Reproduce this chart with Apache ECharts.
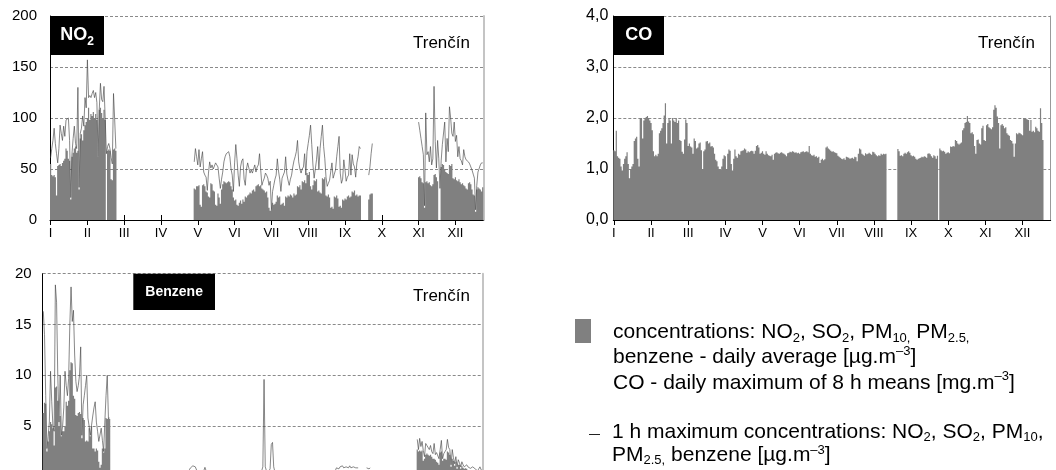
<!DOCTYPE html>
<html>
<head>
<meta charset="utf-8">
<script src="https://cdn.jsdelivr.net/npm/echarts@6/dist/echarts.min.js"></script>
<style>
  html, body { margin: 0; padding: 0; overflow: hidden; background: #fff; width: 1056px; height: 470px; }
  #chart { width: 1056px; height: 520px; }
</style>
</head>
<body>
<div id="chart"></div>
<script>
// Trenčín station, daily values for one year (one row per month, null = no measurement)
const MONTHS = ['I', 'II', 'III', 'IV', 'V', 'VI', 'VII', 'VIII', 'IX', 'X', 'XI', 'XII'];
const N = null;

// NO2 daily average [µg.m-3]
const NO2_DAILY_AVG = [
  [55, 44, 43, 44, 42, 24, 53, 54, 55, 53, 56, 58, 60, 70, 68, 60, 58, 20, 62, 66, 70, 72, 66, 68, 30, 80, 84, 78, 88, 93, 96],
  [100, 110, 98, 104, 102, 106, 100, 104, 98, 62, 108, 110, 105, 100, 108, 98, N, 68, 69, 68, 40, 39, 69, 70, 68, N, N, N],
  [N, N, N, N, N, N, N, N, N, N, N, N, N, N, N, N, N, N, N, N, N, N, N, N, N, N, N, N, N, N, N],
  [N, N, N, N, N, N, N, N, N, N, N, N, N, N, N, N, N, N, N, N, N, N, N, N, N, N, N, N, N, N],
  [N, 31, 30, 33, 33, 34, 15, 13, 34, 35, 33, 28, 27, 23, 22, 36, 35, 29, 28, 15, 14, 26, 22, 16, 30, 35, 38, 37, 36, 37, 38],
  [37, 33, 30, 22, 19, 20, 15, 14, 17, 19, 16, 20, 18, 23, 22, 24, 25, 27, 26, 29, 30, 28, 33, 34, 35, 33, 34, 31, 30, 29],
  [27, 28, 22, 12, 9, 10, 17, 15, 16, 18, 24, 22, 23, 15, 16, 17, 14, 23, 22, 24, 23, 25, 24, 22, 26, 24, 25, 33, 32, 34, 30],
  [38, 37, 39, 36, 46, 44, 47, 33, 30, 34, 39, 38, 40, 28, 29, 27, 26, 41, 40, 42, 24, 23, 25, 22, 12, 13, 11, 23, 22, 24, 21],
  [13, 14, 12, 20, 19, 21, 20, 23, 24, 22, 23, 28, 27, 29, 24, 25, 23, 24, 24, N, N, N, N, N, N, 20, 25, 26, 26, N],
  [N, N, N, N, N, N, N, N, N, N, N, N, N, N, N, N, N, N, N, N, N, N, N, N, N, N, N, N, N, N, N],
  [N, N, N, N, N, N, 42, 43, 41, 37, 36, 12, 37, 38, 36, 37, 34, 33, 35, 44, 45, 42, 38, N, N, 52, 55, 54, 50, 47],
  [46, 45, 54, 53, 55, 41, 40, 42, 39, 38, 40, 37, 35, 36, 34, 33, 31, 30, 36, 37, 35, 30, 25, 24, 8, 30, 32, 31, 30, 28, 32]
];

// NO2 1 h maximum [µg.m-3]
const NO2_HOURLY_MAX = [
  [61, 70, 78, 90, 75, 65, 56, 70, 93, 85, 78, 92, 82, 98, 99, 100, 78, 22, 65, 80, 92, 75, 70, 130, 32, 85, 90, 102, 92, 120, 110],
  [157, 120, 122, 120, 124, 127, 120, 125, 115, 62, 108, 134, 118, 116, 131, 100, 65, 72, 75, 70, 61, 55, 124, 98, 70, N, N, N],
  [N, N, N, N, N, N, N, N, N, N, N, N, N, N, N, N, N, N, N, N, N, N, N, N, N, N, N, N, N, N, N],
  [N, N, N, N, N, N, N, N, N, N, N, N, N, N, N, N, N, N, N, N, N, N, N, N, N, N, N, N, N, N],
  [N, 57, 70, 62, 54, 69, 52, 60, 67, 47, 44, 42, 29, 46, 57, 51, 54, 50, 49, 56, 54, 52, 41, 31, 40, 47, 57, 62, 65, 66, 67],
  [62, 50, 44, 28, 56, 74, 60, 44, 33, 52, 58, 60, 40, 34, 50, 56, 51, 46, 49, 46, 50, 54, 47, 52, 54, 65, 49, 34, 38, 41],
  [46, 44, 41, 34, 38, 10, 28, 34, 40, 44, 60, 48, 40, 28, 41, 44, 47, 62, 45, 39, 34, 40, 44, 52, 58, 62, 67, 78, 57, 50, 46],
  [50, 52, 65, 44, 67, 75, 83, 93, 74, 54, 41, 50, 59, 72, 49, 70, 82, 93, 72, 60, 42, 33, 36, 39, 38, 56, 41, 45, 49, 62, 72],
  [82, 46, 36, 40, 59, 49, 38, 42, 44, 65, 44, 64, 55, 52, 42, 56, 62, 72, 70, N, N, N, N, N, N, 44, 52, 65, 75, N],
  [N, N, N, N, N, N, N, N, N, N, N, N, N, N, N, N, N, N, N, N, N, N, N, N, N, N, N, N, N, N, N],
  [N, N, N, N, N, N, 96, 88, 80, 72, 64, 14, 105, 64, 67, 57, 72, 54, 60, 131, 77, 51, 78, 60, 31, 58, 74, 74, 96, 57],
  [80, 67, 111, 100, 85, 82, 96, 77, 83, 62, 72, 60, 58, 54, 69, 62, 59, 59, 57, 55, 52, 49, 45, 41, 10, 34, 47, 47, 54, 56, 56]
];

// CO daily maximum of 8 h means [mg.m-3]
const CO_DAILY_MAX_8H = [
  [1.37, 1.35, 1.75, 1.25, 1.22, 1.2, 1.05, 0.97, 1.1, 1.2, 1.25, 1.33, 1.1, 0.82, 1.0, 1.05, 1.1, 1.55, 1.6, 1.63, 1.2, 1.05, 2.0, 2.0, 1.6, 1.95, 2.0, 2.02, 2.04, 2.0, 1.95],
  [1.9, 1.76, 1.35, 1.25, 1.28, 1.25, 1.3, 1.7, 1.75, 1.8, 1.9, 2.05, 2.29, 1.5, 1.9, 2.0, 1.95, 1.5, 2.0, 1.95, 1.92, 2.0, 1.9, 1.95, 1.57, 1.55, 1.34, 1.3],
  [1.58, 1.97, 1.9, 1.45, 1.5, 1.44, 1.42, 1.3, 1.6, 1.55, 1.4, 1.42, 1.5, 1.52, 1.37, 1.0, 1.35, 1.38, 1.54, 1.55, 1.5, 1.52, 1.44, 1.45, 1.42, 1.3, 1.18, 1.15, 1.05, 1.0, 0.98],
  [1.05, 1.2, 1.27, 1.25, 1.0, 1.3, 1.38, 1.36, 1.1, 0.97, 1.2, 1.38, 1.25, 1.22, 1.3, 1.28, 1.35, 1.36, 1.37, 1.4, 1.38, 1.32, 1.35, 1.33, 1.35, 1.36, 1.35, 1.3, 1.36, 1.45],
  [1.47, 1.42, 1.3, 1.32, 1.35, 1.3, 1.28, 1.35, 1.3, 1.27, 1.26, 1.25, 1.28, 1.18, 1.3, 1.32, 1.33, 1.31, 1.3, 1.32, 1.33, 1.31, 1.3, 1.28, 1.25, 1.31, 1.32, 1.34, 1.33, 1.35, 1.34],
  [1.32, 1.33, 1.31, 1.32, 1.3, 1.33, 1.34, 1.35, 1.33, 1.34, 1.35, 1.33, 1.45, 1.3, 1.27, 1.26, 1.28, 1.24, 1.25, 1.22, 1.24, 1.12, 1.18, 1.2, 1.17, 1.19, 1.42, 1.44, 1.4, 1.38],
  [1.36, 1.34, 1.35, 1.33, 1.32, 1.31, 1.26, 1.24, 1.22, 1.2, 1.19, 1.21, 1.18, 1.24, 1.23, 1.22, 1.2, 1.21, 1.22, 1.2, 1.24, 1.23, 1.15, 1.3, 1.4, 1.38, 1.3, 1.28, 1.26, 1.31, 1.29],
  [1.3, 1.32, 1.3, 1.28, 1.34, 1.33, 1.3, 1.27, 1.25, 1.27, 1.26, 1.3, 1.28, 1.3, 1.29, 1.3, N, N, N, N, N, N, N, N, N, 1.39, 1.35, 1.26, 1.27, 1.25, 1.3],
  [1.32, 1.3, 1.33, 1.35, 1.32, 1.27, 1.25, 1.26, 1.24, 1.2, 1.18, 1.2, 1.21, 1.22, 1.24, 1.23, 1.25, 1.24, 1.22, 1.3, 1.31, 1.29, 1.25, 1.22, 1.27, 1.25, 1.2, 1.26, N, 1.4],
  [1.37, 1.35, 1.36, 1.34, 1.3, 1.32, 1.33, 1.31, 1.44, 1.43, 1.45, 1.44, 1.57, 1.55, 1.5, 1.48, 1.5, 1.52, 1.76, 1.8, 1.9, 1.92, 2.04, 1.93, 1.9, 1.7, 1.72, 1.68, 1.45, 1.3, 1.57],
  [1.58, 1.5, 1.48, 1.8, 1.85, 1.57, 1.55, 1.86, 1.88, 1.82, 1.8, 1.78, 1.82, 2.16, 2.25, 2.2, 2.03, 1.9, 1.4, 1.86, 1.88, 1.85, 1.8, 1.82, 1.7, 1.67, 1.65, 1.57, 1.55, 1.5],
  [1.24, 1.5, 1.7, 1.68, 1.71, 1.7, 1.68, 1.66, 2.0, 2.0, 1.98, 1.97, 1.96, 1.75, 1.96, 1.73, 1.75, 1.72, 1.83, 1.8, 1.75, 1.73, 2.19, 1.9, 1.57, N, N, N, N, N, N]
];

// Benzene daily average [µg.m-3]
const BENZENE_DAILY_AVG = [
  [6.3, 7.3, 7.2, 2.5, 3.5, 4.5, 5.4, 5.2, 4.8, 3.1, 8.8, 8.9, 7.5, 5.0, 6.0, 4.0, 4.5, 4.5, 5.0, 7.4, 7.0, 7.5, 10.5, 11.3, 11.2, 8.0, 7.7, 6.1, 6.0, 6.3, 6.4],
  [6.2, 3.8, 5.8, 5.6, 3.5, 3.6, 3.5, 4.8, 4.0, 5.0, 2.8, 2.8, 2.5, 2.8, 2.6, 1.5, 0.9, 1.2, 2.8, 2.4, 2.8, 5.8, 5.7, 5.8, 5.7, N, N, N],
  [N, N, N, N, N, N, N, N, N, N, N, N, N, N, N, N, N, N, N, N, N, N, N, N, N, N, N, N, N, N, N],
  [N, N, N, N, N, N, N, N, N, N, N, N, N, N, N, N, N, N, N, N, N, N, N, N, N, N, N, N, N, N],
  [N, 0.4, 0.5, 0.4, 0.6, 0.6, 0.5, 0.4, 0.3, 0.4, 0.3, 0.3, 0.4, 0.3, 0.5, 0.4, 0.3, 0.3, 0.2, 0.3, 0.3, 0.4, 0.3, 0.3, 0.2, 0.3, 0.3, 0.4, 0.3, 0.3, 0.2],
  [0.3, 0.2, 0.3, 0.3, 0.2, 0.3, 0.3, 0.2, 0.2, 0.3, 0.3, 0.2, 0.3, 0.3, 0.2, 0.2, 0.3, 0.3, 0.2, 0.3, 0.3, 0.3, 0.2, 0.3, 0.3, 0.2, 0.3, 0.3, 0.3, 0.3],
  [0.3, 0.4, 0.6, 0.4, 0.3, 0.3, 0.3, 0.4, 0.5, 0.5, 0.4, 0.3, 0.3, 0.3, 0.2, 0.3, 0.3, 0.3, 0.3, 0.2, 0.3, 0.3, 0.3, 0.2, 0.3, 0.3, 0.3, 0.3, 0.3, 0.4, 0.3],
  [0.3, 0.3, 0.4, 0.3, 0.3, 0.3, 0.4, 0.3, 0.3, 0.4, 0.3, 0.3, 0.4, 0.4, 0.3, 0.3, 0.4, 0.3, 0.4, 0.4, 0.3, 0.4, 0.4, 0.3, 0.4, 0.4, 0.4, 0.3, 0.4, 0.4, 0.4],
  [0.5, 0.5, 0.4, 0.5, 0.5, 0.6, 0.5, 0.4, 0.5, 0.5, 0.5, 0.6, 0.5, 0.5, 0.5, 0.6, 0.5, 0.5, 0.5, N, N, N, N, N, N, 0.6, 0.6, 0.5, 0.6, N],
  [N, N, N, N, N, N, N, N, N, N, N, N, N, N, N, N, N, N, N, N, N, N, N, N, N, N, N, N, N, N, N],
  [N, N, N, N, N, N, 2.7, 2.5, 2.6, 2.5, 2.6, 1.6, 1.8, 2.2, 2.3, 2.2, 2.1, 2.2, 2.0, 1.8, 1.8, 1.7, 1.5, 1.4, 1.2, 2.4, 2.5, 1.6, 1.8, 1.8],
  [1.7, 2.5, 2.4, 2.2, 1.0, 1.8, 1.6, 1.1, 1.5, 0.8, 1.2, 1.2, 0.8, 1.1, 0.9, 0.8, 0.85, 0.8, 0.7, 0.6, 0.6, 0.7, 0.7, 0.6, 0.5, 0.5, 0.4, 0.5, 0.5, 0.5, 0.4]
];

// Benzene 1 h maximum [µg.m-3]
const BENZENE_HOURLY_MAX = [
  [16.3, 14.0, 8.0, 2.8, 4.0, 5.4, 10.4, 7.4, 5.0, 4.5, 18.9, 17.2, 10.0, 5.4, 10.0, 4.1, 5.0, 6.8, 10.4, 9.0, 8.0, 9.7, 15.0, 18.7, 15.3, 16.4, 12.0, 9.4, 8.4, 9.0, 10.0],
  [12.8, 4.1, 7.1, 8.0, 9.0, 10.0, 5.8, 5.0, 4.1, 5.1, 6.0, 6.8, 7.4, 5.4, 4.5, 3.5, 3.5, 4.8, 3.6, 2.5, 5.4, 8.0, 10.0, 5.8, 5.8, N, N, N],
  [N, N, N, N, N, N, N, N, N, N, N, N, N, N, N, N, N, N, N, N, N, N, N, N, N, N, N, N, N, N, N],
  [N, N, N, N, N, N, N, N, N, N, N, N, N, N, N, N, N, N, N, N, N, N, N, N, N, N, N, N, N, N],
  [N, 0.7, 0.9, 0.8, 1.1, 1.2, 1.0, 0.7, 0.6, 0.5, 0.5, 0.6, 0.5, 0.6, 0.95, 0.6, 0.5, 0.5, 0.4, 0.5, 0.5, 0.6, 0.5, 0.5, 0.4, 0.5, 0.5, 0.6, 0.5, 0.5, 0.4],
  [0.5, 0.4, 0.5, 0.5, 0.4, 0.5, 0.5, 0.4, 0.4, 0.5, 0.5, 0.4, 0.5, 0.5, 0.4, 0.4, 0.5, 0.5, 0.4, 0.5, 0.5, 0.5, 0.4, 0.5, 0.5, 0.4, 0.5, 0.5, 0.5, 0.6],
  [0.6, 1.0, 9.6, 1.0, 0.6, 0.5, 0.6, 0.8, 3.2, 3.4, 1.0, 0.5, 0.5, 0.5, 0.4, 0.5, 0.5, 0.5, 0.5, 0.4, 0.5, 0.5, 0.5, 0.4, 0.5, 0.5, 0.5, 0.5, 0.5, 0.6, 0.5],
  [0.5, 0.5, 0.6, 0.5, 0.5, 0.5, 0.6, 0.5, 0.5, 0.6, 0.5, 0.5, 0.6, 0.6, 0.5, 0.5, 0.6, 0.5, 0.6, 0.6, 0.5, 0.6, 0.6, 0.5, 0.6, 0.6, 0.6, 0.5, 0.6, 0.6, 0.6],
  [0.9, 1.0, 0.8, 1.0, 0.9, 1.1, 0.9, 0.8, 1.0, 1.0, 0.9, 1.1, 0.9, 0.8, 1.0, 1.1, 0.9, 0.8, 0.9, N, N, N, N, N, N, 0.9, 0.9, 0.8, 0.9, N],
  [N, N, N, N, N, N, N, N, N, N, N, N, N, N, N, N, N, N, N, N, N, N, N, N, N, N, N, N, N, N, N],
  [N, N, N, N, N, N, 3.7, 2.7, 3.8, 3.0, 3.5, 2.6, 2.0, 3.3, 3.1, 2.9, 2.7, 3.1, 2.5, 2.3, 3.3, 2.2, 2.4, 2.5, 1.8, 2.7, 3.6, 1.8, 2.3, 2.5],
  [2.7, 3.7, 2.9, 2.7, 1.2, 2.7, 1.9, 1.3, 2.0, 1.0, 1.7, 1.4, 1.0, 1.5, 1.2, 1.0, 1.1, 1.2, 1.0, 0.9, 0.85, 0.9, 1.0, 1.0, 0.8, 0.7, 0.6, 0.7, 1.0, 0.7, 0.6]
];

// Legend wording (rich-text markup: t = normal, sub = subscript, sup = superscript)
const LEGEND_BAR_LINES = [
  '{t|concentrations: NO}{sub|2}{t|, SO}{sub|2}{t|, PM}{sub|10,}{t| PM}{sub|2.5,}',
  '{t|benzene - daily average [µg.m}{sup|–3}{t|]}',
  '{t|CO - daily maximum of 8 h means [mg.m}{sup|–3}{t|]}'
];
const LEGEND_LINE_LINES = [
  '{t|1 h maximum concentrations: NO}{sub|2}{t|, SO}{sub|2}{t|, PM}{sub|10}{t|,}',
  '{t|PM}{sub|2.5,}{t| benzene [µg.m}{sup|–3}{t|]}'
];
const STATION = 'Trenčín';

const FONT = '"Liberation Sans", Arial, Helvetica, sans-serif';
const DAYS = Array.from({ length: 365 }, (_, i) => String(i + 1));
const BAR_GREY = '#808080';

const PANELS = [
  {
    box: { left: 50, top: 16, width: 433.3, height: 204 },
    yMax: 200, yStep: 50, fmt: v => String(v), yFont: 15, yLabelMargin: 13,
    bars: NO2_DAILY_AVG.flat(), line: NO2_HOURLY_MAX.flat(),
    edge: { color: '#c4c4c4', width: 2 }
  },
  {
    box: { left: 613.3, top: 16, width: 437.4, height: 204 },
    yMax: 4, yStep: 1, fmt: v => v.toFixed(1).replace('.', ','), yFont: 16, yLabelMargin: 5,
    bars: CO_DAILY_MAX_8H.flat(), line: null,
    edge: { color: '#9a9a9a', width: 1 }
  },
  {
    box: { left: 42.7, top: 273.7, width: 440.3, height: 203.3 },
    yMax: 20, yStep: 5, fmt: v => String(v), yFont: 15, yLabelMargin: 11,
    bars: BENZENE_DAILY_AVG.flat(), line: BENZENE_HOURLY_MAX.flat(),
    edge: { color: '#c4c4c4', width: 2 }
  }
];

const option = {
  animation: false,
  backgroundColor: '#fff',
  textStyle: { fontFamily: FONT },
  grid: [], xAxis: [], yAxis: [], series: [], graphic: []
};

PANELS.forEach((p, i) => {
  option.grid.push(Object.assign({ containLabel: false }, p.box));
  const cat = { type: 'category', gridIndex: i, data: DAYS, boundaryGap: true, position: 'bottom' };
  // main time axis: axis line, outer month ticks, Roman month labels every 31 days
  option.xAxis.push(Object.assign({}, cat, {
    axisLine: { show: true, lineStyle: { color: '#000', width: 1 } },
    axisTick: { show: true, interval: 30, alignWithLabel: true, length: 5, lineStyle: { color: '#000' } },
    axisLabel: {
      show: true, interval: 30, margin: 7, color: '#000', fontSize: 13, fontFamily: FONT,
      formatter: (v, k) => MONTHS[Math.round(k / 31)] || ''
    },
    splitLine: { show: false }
  }));
  // companion axis: the inner half of the month ticks
  option.xAxis.push(Object.assign({}, cat, {
    axisLine: { show: false },
    axisTick: { show: true, inside: true, interval: 30, alignWithLabel: true, length: 5, lineStyle: { color: '#000' } },
    axisLabel: { show: false },
    splitLine: { show: false }
  }));
  option.yAxis.push({
    type: 'value', gridIndex: i, position: 'left', min: 0, max: p.yMax, interval: p.yStep,
    axisLine: { show: true, lineStyle: { color: '#000', width: 1 } },
    axisTick: { show: false },
    axisLabel: { color: '#000', fontSize: p.yFont, fontFamily: FONT, margin: p.yLabelMargin, formatter: p.fmt },
    splitLine: { show: true, lineStyle: { color: '#8a8a8a', width: 1, type: [3, 2] } }
  });
  option.yAxis.push({
    type: 'value', gridIndex: i, position: 'right', min: 0, max: p.yMax, interval: p.yStep,
    axisLine: { show: true, lineStyle: p.edge },
    axisTick: { show: false }, axisLabel: { show: false }, splitLine: { show: false }
  });
  // daily bars filling the whole day slot, drawn as one path so neighbouring days join without seams
  option.series.push({
    type: 'bar', xAxisIndex: 2 * i, yAxisIndex: 2 * i, data: p.bars,
    barCategoryGap: '0%', large: true, largeThreshold: 1, silent: true,
    itemStyle: { color: BAR_GREY, borderWidth: 0 }
  });
  if (p.line) {
    option.series.push({
      type: 'line', xAxisIndex: 2 * i, yAxisIndex: 2 * i, data: p.line,
      showSymbol: false, symbol: 'none', connectNulls: false, silent: true, z: 3,
      lineStyle: { color: '#474747', width: 0.65 }
    });
  }
});

// black name plates in the panel corners
function plate(x, y, w, h, text, rich) {
  return [
    { type: 'rect', shape: { x, y, width: w, height: h }, style: { fill: '#000' }, z: 50 },
    { type: 'text', x: x + w / 2, y: y + h / 2, z: 51,
      style: { text, align: 'center', verticalAlign: 'middle', fill: '#fff', rich } }
  ];
}
const plateRich = {
  a: { fontFamily: FONT, fontSize: 18, fontWeight: 'bold', fill: '#fff', lineHeight: 24 },
  b: { fontFamily: FONT, fontSize: 12, fontWeight: 'bold', fill: '#fff', lineHeight: 12, verticalAlign: 'bottom' },
  c: { fontFamily: FONT, fontSize: 14, fontWeight: 'bold', fill: '#fff', lineHeight: 18 }
};
option.graphic.push(...plate(50, 16, 54, 39, '{a|NO}{b|2}', plateRich));
option.graphic.push(...plate(613.3, 16, 50.7, 39, '{a|CO}', plateRich));
option.graphic.push(...plate(133.3, 273.7, 81.7, 36.3, '{c|Benzene}', plateRich));

// station name in each panel
[[470, 43], [1035, 43], [470, 296]].forEach(([x, y]) => {
  option.graphic.push({
    type: 'text', x, y, z: 51,
    style: { text: STATION, align: 'right', verticalAlign: 'middle', fill: '#000', font: '17px ' + FONT }
  });
});

// legend
const legendRich = {
  t: { fontFamily: FONT, fontSize: 21, fill: '#000', lineHeight: 25.5 },
  sub: { fontFamily: FONT, fontSize: 13, fill: '#000', lineHeight: 13, verticalAlign: 'bottom' },
  sup: { fontFamily: FONT, fontSize: 13, fill: '#000', lineHeight: 13, verticalAlign: 'top' }
};
option.graphic.push(
  { type: 'rect', shape: { x: 575, y: 319, width: 16, height: 24 }, style: { fill: BAR_GREY } },
  { type: 'text', x: 613, y: 319.25,
    style: { text: LEGEND_BAR_LINES.join('\n'), align: 'left', verticalAlign: 'top', fill: '#000', rich: legendRich } },
  { type: 'line', shape: { x1: 589, y1: 434.5, x2: 600, y2: 434.5 }, style: { stroke: '#222', lineWidth: 1 } },
  { type: 'text', x: 612, y: 420.25,
    style: { text: LEGEND_LINE_LINES.join('\n'), align: 'left', verticalAlign: 'top', fill: '#000',
      rich: Object.assign({}, legendRich, { t: Object.assign({}, legendRich.t, { lineHeight: 23.5 }) }) } }
);

const chart = echarts.init(document.getElementById('chart'), null, { renderer: 'canvas', width: 1056, height: 520 });
chart.setOption(option);
</script>
</body>
</html>
